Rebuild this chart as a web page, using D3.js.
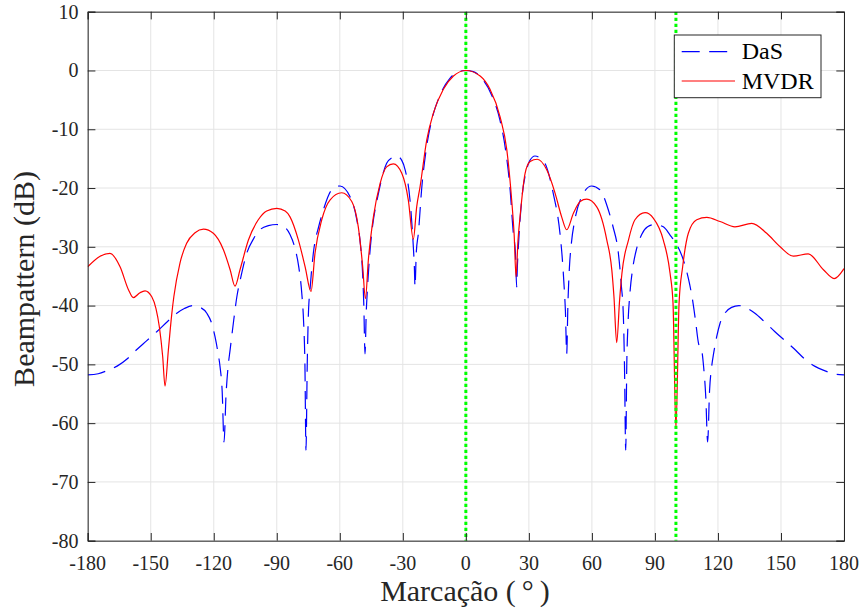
<!DOCTYPE html>
<html>
<head>
<meta charset="utf-8">
<script src="https://cdn.jsdelivr.net/npm/d3@7"></script>
<style>
  html, body { margin: 0; padding: 0; background: #fff; }
  svg { display: block; }
</style>
</head>
<body>
<svg id="chart" width="862" height="612"></svg>
<script>
// ---------------- DATA ----------------
const xTicks = [-180, -150, -120, -90, -60, -30, 0, 30, 60, 90, 120, 150, 180];
const yTicks = [-80, -70, -60, -50, -40, -30, -20, -10, 0, 10];
const seriesNames = ["DaS", "MVDR"];
const markerAngles = [0, 100];

// DaS beampattern: [angle (deg), level (dB)]
const dasData = [
  [-180,-51.8],[-175,-51.6],[-171,-51.1],[-166,-50.3],[-161,-49.0],[-157,-47.6],[-152,-46.0],
  [-147,-44.4],[-142,-42.7],[-137.6,-41.3],[-134,-40.5],[-130,-40.0],[-126.5,-40.3],[-123.3,-41.3],
  [-121,-43.0],[-119.4,-45.3],[-118,-48.0],[-117,-50.4],[-116,-54.5],[-115.1,-63.2],[-114.2,-55.5],
  [-113.2,-50.5],[-112.2,-47.5],[-110.5,-42.5],[-109,-38.5],[-107,-35.0],[-104.3,-31.1],[-101,-28.6],
  [-98,-27.1],[-94,-26.4],[-90,-26.2],[-86.5,-26.6],[-83.7,-27.9],[-81.3,-30.3],[-79.5,-33.5],
  [-78.1,-37.9],[-77.2,-43.0],[-76.6,-50.0],[-76.1,-64.6],[-75.5,-50.0],[-75,-42.0],[-74,-36.5],
  [-72.6,-31.1],[-70,-26.5],[-67.8,-23.7],[-63.8,-20.3],[-59.9,-19.65],[-55.1,-21.5],[-51.9,-25.4],
  [-50.2,-29.5],[-49.3,-33.5],[-48.6,-39.5],[-48.0,-48.2],[-47.4,-41.0],[-46.9,-37.5],[-45.8,-31.5],
  [-44.8,-27.7],[-41.6,-20.9],[-37.7,-15.8],[-35,-14.8],[-32.9,-14.55],[-30.5,-15.3],[-28.9,-16.9],
  [-26.6,-22.0],[-25.5,-27.0],[-25.0,-30.0],[-24.5,-33.5],[-24.2,-36.8],[-23.6,-31.0],[-22.6,-27.7],
  [-21.0,-20.0],[-18.9,-13.5],[-16.2,-8.4],[-12.3,-4.2],[-7.5,-1.3],[-3.6,-0.2],[0,0],
  [3.6,-0.2],[7.5,-1.3],[12.3,-4.2],[16.2,-8.4],[18.9,-13.5],[21.0,-20.0],[22.6,-27.7],[23.6,-31.0],
  [24.2,-36.8],[24.5,-33.5],[25.0,-30.0],[25.5,-27.0],[26.6,-22.0],[28.9,-16.9],[30.5,-15.3],
  [32.9,-14.55],[35,-14.8],[37.7,-15.8],[41.6,-20.9],[44.8,-27.7],[45.8,-31.5],[46.9,-37.5],
  [47.4,-41.0],[48.0,-48.2],[48.6,-39.5],[49.3,-33.5],[50.2,-29.5],[51.9,-25.4],[55.1,-21.5],
  [59.9,-19.65],[63.8,-20.3],[67.8,-23.7],[70,-26.5],[72.6,-31.1],[74,-36.5],[75,-42.0],[75.5,-50.0],
  [76.1,-64.6],[76.6,-50.0],[77.2,-43.0],[78.1,-37.9],[79.5,-33.5],[81.3,-30.3],[83.7,-27.9],
  [86.5,-26.6],[90,-26.2],[94,-26.6],[97.2,-28.0],[100,-29.4],[103.5,-32.2],[106,-35.5],[107.8,-38.8],
  [109.3,-42.5],[110.8,-46.5],[112.2,-47.5],[113.2,-50.5],[114.2,-55.5],[115.1,-63.2],[116,-54.5],
  [117,-50.4],[118,-48.0],[119.4,-45.3],[121,-43.0],[123.3,-41.3],[126.5,-40.3],[130,-40.0],
  [134,-40.5],[137.6,-41.3],[142,-42.7],[147,-44.4],[152,-46.0],[157,-47.6],[161,-49.0],[166,-50.3],
  [171,-51.1],[175,-51.6],[180,-51.8]
];

// MVDR beampattern: [angle (deg), level (dB)]
const mvdrData = [
  [-180,-33.4],[-174.1,-31.6],[-169.4,-31.1],[-164.6,-33.4],[-160.6,-37.3],[-158.3,-38.65],
  [-155.1,-37.8],[-152.7,-37.5],[-149.5,-38.5],[-147.5,-40.5],[-145.9,-43.6],[-144.3,-48.7],
  [-143.2,-53.7],[-141.6,-47.55],[-140.0,-41.5],[-139.0,-38.5],[-136.1,-32.8],[-132.9,-29.4],
  [-128.9,-27.6],[-124.9,-27.0],[-120.2,-27.7],[-115.4,-30.5],[-112.2,-33.9],[-109.9,-36.7],
  [-107.5,-33.9],[-103.5,-28.85],[-98.8,-25.4],[-94.8,-23.9],[-90.0,-23.45],[-86,-23.9],
  [-83.7,-24.9],[-79.7,-28.85],[-76.5,-33.4],[-73.7,-37.6],[-71.8,-31.1],[-68.6,-25.4],
  [-64.6,-22.0],[-59.1,-20.8],[-54.3,-22.3],[-51.2,-26.6],[-49.1,-33.4],[-47.8,-38.8],
  [-46.4,-32.2],[-44.0,-24.9],[-40.8,-19.2],[-37.7,-16.4],[-34.5,-15.9],[-30.5,-17.5],
  [-27.4,-22.0],[-25.0,-28.7],[-23.4,-23.2],[-21.8,-19.8],[-18.6,-11.8],[-15.5,-7.3],
  [-10.7,-3.2],[-5.9,-0.95],[0,0],[6.8,-0.95],[11.5,-3.2],[16.3,-7.9],[19.5,-13.5],[21.8,-22.0],
  [23.0,-28.0],[23.9,-35.1],[24.8,-29.0],[25.8,-24.9],[28.2,-17.5],[30.6,-15.5],[34.0,-15.1],
  [38.5,-16.9],[42.5,-20.9],[45.6,-24.9],[48.0,-27.1],[51.2,-24.3],[54.4,-22.3],[57.5,-21.9],
  [62.3,-23.2],[67.1,-28.85],[69.5,-34.0],[70.5,-38.5],[71.8,-46.3],[73.2,-39.0],[74.3,-34.5],
  [77.4,-28.85],[80.5,-25.4],[85.3,-24.2],[89.3,-25.15],[94.0,-28.85],[97.2,-34.5],[98.6,-39.5],
  [100.0,-60.9],[101.5,-39.5],[103.2,-33.4],[105.9,-27.7],[109.9,-25.4],[114.7,-25.0],[121.0,-25.7],
  [128.1,-26.6],[136.1,-26.0],[143.2,-27.7],[149.6,-30.0],[155.9,-31.6],[163.0,-31.2],[170.2,-33.9],
  [175.3,-35.4],[180,-33.7]
];

// ---------------- CHART ----------------
const svg = d3.select("#chart");
const L = 87.7, R = 844, T = 11.7, B = 540.7;
const axisColor = "#262626";
const serif = "'Liberation Serif', 'Times New Roman', serif";

const x = d3.scaleLinear().domain([-180, 180]).range([L, R]);
const y = d3.scaleLinear().domain([-80, 10]).range([B, T]);

// grid
const grid = svg.append("g");
grid.selectAll(".gx").data(xTicks).join("line")
  .attr("x1", d => x(d)).attr("x2", d => x(d)).attr("y1", T).attr("y2", B)
  .attr("stroke", "#e4e4e4").attr("stroke-width", 1);
grid.selectAll(".gy").data(yTicks).join("line")
  .attr("x1", L).attr("x2", R).attr("y1", d => y(d)).attr("y2", d => y(d))
  .attr("stroke", "#e4e4e4").attr("stroke-width", 1);

// clip
svg.append("clipPath").attr("id", "clip").append("rect")
  .attr("x", L).attr("y", T).attr("width", R - L).attr("height", B - T);

const line = d3.line().x(d => x(d[0])).y(d => y(d[1])).curve(d3.curveMonotoneX);
const plot = svg.append("g").attr("clip-path", "url(#clip)");

plot.append("path").datum(dasData).attr("d", line)
  .attr("fill", "none").attr("stroke", "#0000ff").attr("stroke-width", 1.2)
  .attr("stroke-dasharray", "18,9.5");
plot.append("path").datum(mvdrData).attr("d", line)
  .attr("fill", "none").attr("stroke", "#ff0000").attr("stroke-width", 1.2);

plot.selectAll(".marker").data(markerAngles).join("line")
  .attr("x1", d => x(d)).attr("x2", d => x(d)).attr("y1", T).attr("y2", B)
  .attr("stroke", "#00ff00").attr("stroke-width", 3)
  .attr("stroke-dasharray", "3.3,2.7");

// axes (box with inner ticks)
const axB = d3.axisBottom(x).tickValues(xTicks).tickSize(-7.7).tickPadding(0).tickFormat("");
const axT = d3.axisTop(x).tickValues(xTicks).tickSize(-7.7).tickFormat("");
const axL = d3.axisLeft(y).tickValues(yTicks).tickSize(-7.7).tickFormat("");
const axR = d3.axisRight(y).tickValues(yTicks).tickSize(-7.7).tickFormat("");
[[axB, `translate(0,${B})`], [axT, `translate(0,${T})`], [axL, `translate(${L},0)`], [axR, `translate(${R},0)`]]
  .forEach(([ax, tr]) => {
    const g = svg.append("g").attr("transform", tr).call(ax);
    g.selectAll("path").attr("stroke", axisColor).attr("stroke-width", 1);
    g.selectAll("line").attr("stroke", axisColor).attr("stroke-width", 1);
  });

// tick labels
svg.append("g").selectAll("text").data(xTicks).join("text")
  .attr("x", d => x(d)).attr("y", 570)
  .attr("text-anchor", "middle").attr("font-family", serif).attr("font-size", 20)
  .attr("fill", axisColor).text(d => d);
svg.append("g").selectAll("text").data(yTicks).join("text")
  .attr("x", 78.5).attr("y", d => y(d)).attr("dy", "0.34em")
  .attr("text-anchor", "end").attr("font-family", serif).attr("font-size", 20)
  .attr("fill", axisColor).text(d => d);

// axis labels
svg.append("text").attr("x", 465).attr("y", 601)
  .attr("text-anchor", "middle").attr("font-family", serif).attr("font-size", 30)
  .attr("fill", axisColor).text("Marcação (\u2009°\u2009)");
svg.append("text").attr("transform", "translate(34,279) rotate(-90)")
  .attr("text-anchor", "middle").attr("font-family", serif).attr("font-size", 30)
  .attr("fill", axisColor).text("Beampattern (dB)");

// legend
const lg = svg.append("g");
lg.append("rect").attr("x", 674.3).attr("y", 35).attr("width", 146.7).attr("height", 62.7)
  .attr("fill", "#fff").attr("stroke", axisColor).attr("stroke-width", 1);
const legendStyles = [
  { color: "#0000ff", dash: "18,9.5", y: 51.7 },
  { color: "#ff0000", dash: null, y: 81 }
];
seriesNames.forEach((name, i) => {
  const s = legendStyles[i];
  lg.append("line").attr("x1", 681.7).attr("x2", 735).attr("y1", s.y).attr("y2", s.y)
    .attr("stroke", s.color).attr("stroke-width", 1.2)
    .attr("stroke-dasharray", s.dash);
  lg.append("text").attr("x", 741.7).attr("y", s.y + 7.5)
    .attr("font-family", serif).attr("font-size", 24).attr("fill", "#000").text(name);
});
</script>
</body>
</html>
